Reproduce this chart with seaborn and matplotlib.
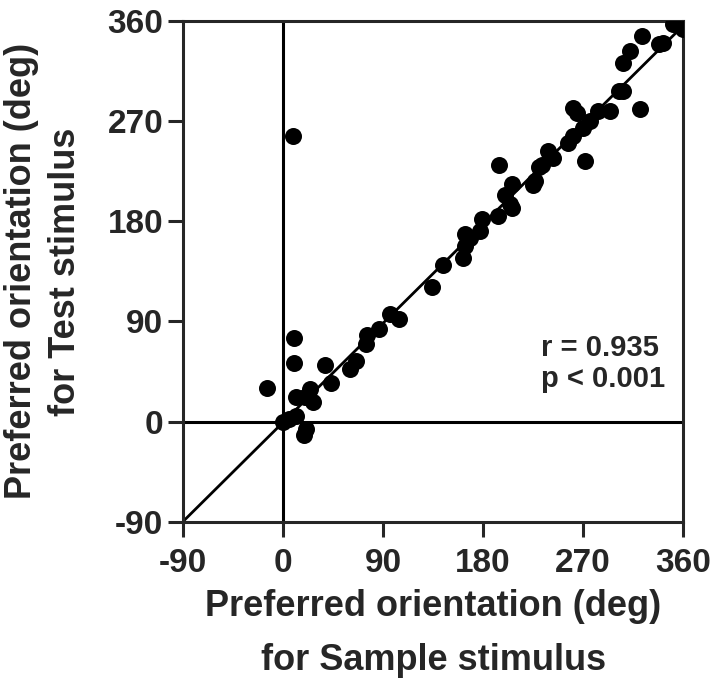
import numpy as np
import pandas as pd
import matplotlib
matplotlib.use("Agg")
import matplotlib.pyplot as plt
import seaborn as sns

# preferred orientation (deg)
sample_deg = [-14, 10, 10, 9, 0, 5, 12, 21, 19, 12, 20, 24, 27, 38, 43, 60, 66,
              75, 76, 86, 96, 104, 134, 144, 162, 164, 164, 168, 177, 179, 193,
              194, 200, 206, 206, 204, 225, 227, 230, 233, 238, 243, 256, 261,
              261, 264, 270, 272, 276, 283, 294, 302, 306, 306, 312, 321, 323,
              338, 342, 351, 360]
test_deg = [30, 75, 53, 257, 0, 2, 5, -7, -12, 22, 22, 29, 18, 51, 35, 47, 54,
            70, 78, 83, 97, 92, 121, 141, 147, 158, 169, 165, 171, 182, 185,
            231, 204, 192, 214, 196, 213, 216, 229, 231, 243, 237, 250, 257,
            282, 277, 264, 234, 270, 279, 279, 297, 297, 322, 333, 281, 347,
            339, 340, 357, 353]

fit_x = [-90, 360]
fit_y = [-90, 356]

ticks = [-90, 0, 90, 180, 270, 360]

df = pd.DataFrame({"sample": sample_deg, "test": test_deg})

sns.set_style("ticks")
plt.rcParams['font.family'] = ['Liberation Sans', 'DejaVu Sans']
plt.rcParams['font.weight'] = 'bold'
plt.rcParams['axes.unicode_minus'] = False

fig = plt.figure(figsize=(7.2, 6.81), dpi=100)
ax = fig.add_axes([0.254, 0.234, 0.695, 0.735])

ax.axhline(0, color='black', lw=2.2, zorder=1)
ax.axvline(0, color='black', lw=2.2, zorder=1)
ax.plot(fit_x, fit_y, color='black', lw=2.0, zorder=2)
sns.scatterplot(data=df, x="sample", y="test", ax=ax, color='black',
                s=150, edgecolor='black', linewidth=0, zorder=3)

ax.set_xlim(-90, 360)
ax.set_ylim(-90, 360)
ax.set_xticks(ticks)
ax.set_yticks(ticks)
ax.tick_params(axis='both', direction='out', length=11, width=2.2,
               labelsize=24, pad=8)
ax.tick_params(axis='y', pad=3)
for lab in ax.get_xticklabels() + ax.get_yticklabels():
    lab.set_fontweight('bold')
for sp in ax.spines.values():
    sp.set_visible(True)
    sp.set_linewidth(2.2)

ax.set_xlabel("Preferred orientation (deg)\nfor Sample stimulus",
              fontsize=26, fontweight='bold', labelpad=7, linespacing=1.7)
ax.set_ylabel("Preferred orientation (deg)\nfor Test stimulus",
              fontsize=26, fontweight='bold', labelpad=18, linespacing=1.3)

ax.text(0.716, 0.316, "r = 0.935\np < 0.001", transform=ax.transAxes,
        fontsize=21, fontweight='bold', ha='left', va='center',
        linespacing=1.15)

plt.savefig("out.png", dpi=100)
